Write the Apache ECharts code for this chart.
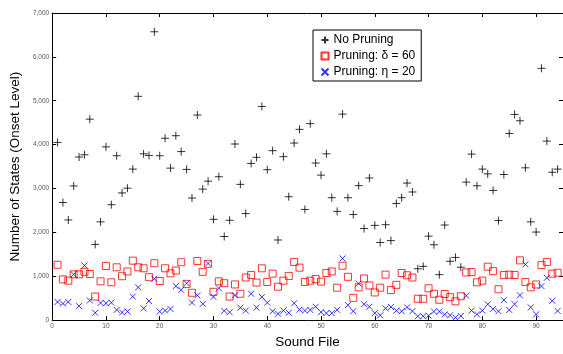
<!DOCTYPE html>
<html>
<head>
<meta charset="utf-8">
<script src="https://cdn.jsdelivr.net/npm/echarts@6/dist/echarts.min.js"></script>
<style>
  html, body { margin: 0; padding: 0; background: #fff; }
  #chart { width: 563px; height: 354px; }
</style>
</head>
<body>
<div id="chart"></div>
<script>
// sound files 1..94
var noPruning = [4050, 2680, 2283, 3058, 3717, 3768, 4580, 1725, 2239, 3949,
  2630, 3746, 2899, 3007, 3442, 5101, 3790, 3754, 6572, 3746,
  4145, 3464, 4203, 3841, 3435, 2783, 4674, 2986, 3167, 2297,
  3268, 1905, 2275, 4014, 3094, 2428, 3572, 3710, 4870, 3428,
  3862, 1826, 3725, 2812, 4036, 4348, 2522, 4478, 3580, 3304,
  3790, 2790, 2478, 4696, 2790, 2406, 3065, 2087, 3239, 2159,
  1768, 2174, 1812, 2659, 2790, 3123, 2920, 1170, 1225, 1913,
  1717, 1036, 2167, 1341, 1428, 1205, 3145, 3783, 3062, 3442,
  3333, 2956, 2268, 3319, 4254, 4688, 4543, 3471, 2239, 2007,
  5739, 4080, 3370, 3442];
var pruningDelta = [1261, 928, 899, 1043, 1043, 1101, 1051, 536, 884, 1232,
  862, 1203, 1000, 1109, 1355, 1203, 1181, 978, 1297, 891,
  1181, 1065, 1130, 1319, 826, 623, 1348, 1101, 1283, 645,
  884, 841, 536, 812, 601, 971, 1029, 855, 1181, 870,
  1058, 761, 899, 1007, 1326, 1196, 870, 899, 935, 877,
  1073, 1109, 739, 1239, 986, 507, 746, 949, 790, 630,
  739, 1036, 685, 804, 1073, 1022, 971, 486, 486, 725,
  601, 464, 594, 522, 428, 543, 1087, 1094, 862, 899,
  1217, 1116, 703, 1029, 1036, 1029, 1362, 870, 746, 812,
  1254, 1326, 1058, 1080];
var pruningEta = [413, 377, 413, 1043, 319, 1246, 449, 167, 391, 384,
  399, 232, 174, 196, 536, 746, 268, 435, 942, 196,
  217, 254, 775, 688, 841, 399, 565, 370, 1290, 529,
  725, 210, 180, 565, 283, 217, 601, 283, 529, 399,
  203, 145, 217, 167, 384, 239, 217, 232, 304, 181,
  159, 159, 232, 1406, 341, 203, 833, 362, 304, 159,
  109, 268, 300, 217, 203, 290, 203, 87, 87, 101,
  196, 196, 130, 109, 58, 94, 558, 217, 130, 217,
  362, 254, 203, 455, 232, 362, 565, 1268, 290, 130,
  775, 964, 440, 210];
var seriesNames = ['No Pruning', 'Pruning: \u03b4 = 60', 'Pruning: \u03b7 = 20'];
var xTicks = [0, 10, 20, 30, 40, 50, 60, 70, 80, 90];
var yTicks = [0, 1000, 2000, 3000, 4000, 5000, 6000, 7000];

function toPoints (values) {
  return values.map(function (v, i) { return [i + 1, v]; });
}

var chart = echarts.init(document.getElementById('chart'));
var labelColor = '#555';
var font = 'Liberation Sans, Arial, sans-serif';

function xAxisCfg (pos, showLabels) {
  return {
    type: 'value', position: pos, min: xTicks[0], max: 95, interval: 10,
    axisLine: { show: true, onZero: false, lineStyle: { color: '#000', width: 1 } },
    axisTick: { show: true, inside: true, length: 4, lineStyle: { color: '#000' },
      customValues: xTicks },
    axisLabel: { show: showLabels, color: labelColor, fontSize: 6.5, fontFamily: font, margin: 3,
      customValues: xTicks },
    splitLine: { show: false },
    name: showLabels ? 'Sound File' : '',
    nameLocation: 'middle', nameGap: 10,
    nameTextStyle: { color: '#000', fontSize: 13.5, fontFamily: font, verticalAlign: 'top' }
  };
}
function yAxisCfg (pos, showLabels) {
  return {
    type: 'value', position: pos, min: 0, max: 7000, interval: 1000,
    axisLine: { show: true, onZero: false, lineStyle: { color: '#000', width: 1 } },
    axisTick: { show: true, inside: true, length: 4, lineStyle: { color: '#000' } },
    axisLabel: { show: showLabels, color: labelColor, fontSize: 6.5, fontFamily: font, margin: 3,
      customValues: yTicks },
    splitLine: { show: false },
    name: showLabels ? 'Number of States (Onset Level)' : '',
    nameLocation: 'middle', nameGap: 20,
    nameTextStyle: { color: '#000', fontSize: 13.5, fontFamily: font }
  };
}

var option = {
  animation: false,
  backgroundColor: '#fff',
  grid: { left: 40, right: 0, top: 13, bottom: 19, containLabel: false },
  xAxis: [xAxisCfg('bottom', true), xAxisCfg('top', false)],
  yAxis: [yAxisCfg('left', true), yAxisCfg('right', false)],
  legend: {
    orient: 'vertical', left: 313, top: 30,
    width: 108,
    backgroundColor: '#fff', borderColor: '#000', borderWidth: 1, borderRadius: 0,
    padding: [4, 6, 3, 6],
    itemWidth: 7, itemHeight: 7, itemGap: 4,
    textStyle: { color: '#000', fontSize: 12, fontFamily: font },
    data: seriesNames
  },
  series: [{
    name: seriesNames[0], type: 'scatter', data: toPoints(noPruning),
    symbol: 'path://M5,0L5,10M0,5L10,5', symbolSize: 8,
    itemStyle: { color: 'none', borderColor: '#000', borderWidth: 1 }
  }, {
    name: seriesNames[1], type: 'scatter', data: toPoints(pruningDelta),
    symbol: 'rect', symbolSize: 7,
    itemStyle: { color: 'none', borderColor: '#ff0000', borderWidth: 1 }
  }, {
    name: seriesNames[2], type: 'scatter', data: toPoints(pruningEta),
    symbol: 'path://M0,0L10,10M10,0L0,10', symbolSize: 6,
    itemStyle: { color: 'none', borderColor: '#0000ff', borderWidth: 1 }
  }]
};
chart.setOption(option, true);
</script>
</body>
</html>
